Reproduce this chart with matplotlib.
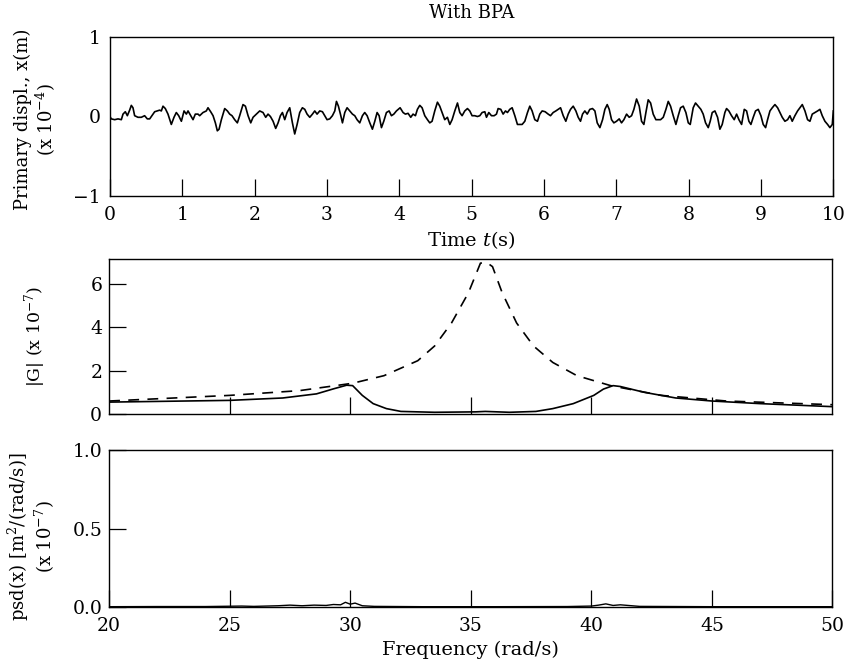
import matplotlib
matplotlib.use("Agg")
import matplotlib.pyplot as plt

# top panel: primary displacement (x 1e-4 m)
time_s = [
    0.0, 0.018, 0.065, 0.111, 0.157, 0.180, 0.212, 0.240, 0.272, 0.295, 0.318, 0.341,
    0.387, 0.433, 0.479, 0.516, 0.549, 0.595, 0.618, 0.655, 0.687, 0.710, 0.733, 0.765,
    0.802, 0.848, 0.885, 0.917, 0.950, 0.987, 1.024, 1.056, 1.079, 1.116, 1.148, 1.180,
    1.217, 1.240, 1.286, 1.332, 1.355, 1.392, 1.425, 1.457, 1.484, 1.508, 1.540, 1.586,
    1.623, 1.655, 1.687, 1.724, 1.761, 1.793, 1.839, 1.872, 1.909, 1.946, 1.978,
    2.024, 2.070, 2.116, 2.153, 2.185, 2.218, 2.255, 2.291, 2.324, 2.356, 2.384, 2.416,
    2.448, 2.485, 2.522, 2.554, 2.587, 2.623, 2.660, 2.693, 2.725, 2.762, 2.799, 2.831,
    2.863, 2.900, 2.937, 2.969, 3.001, 3.038, 3.075, 3.108, 3.131, 3.158, 3.186, 3.214,
    3.246, 3.278, 3.315, 3.352, 3.384, 3.416, 3.453, 3.490, 3.522, 3.555, 3.592, 3.628,
    3.661, 3.693, 3.721, 3.753, 3.785, 3.822, 3.859, 3.891, 3.924, 3.960, 4.011,
    4.052, 4.084, 4.121, 4.158, 4.190, 4.223, 4.250, 4.283, 4.315, 4.352, 4.389,
    4.421, 4.453, 4.490, 4.527, 4.559, 4.592, 4.628, 4.665, 4.698, 4.730, 4.767, 4.804,
    4.836, 4.868, 4.905, 4.942, 4.974, 5.006, 5.043, 5.080, 5.113, 5.145, 5.182, 5.205,
    5.237, 5.274, 5.311, 5.343, 5.366, 5.403, 5.435, 5.468, 5.495, 5.527, 5.560, 5.597,
    5.633, 5.666, 5.698, 5.735, 5.772, 5.804, 5.836, 5.873, 5.910, 5.942, 5.975, 6.016,
    6.058, 6.090, 6.127, 6.164, 6.196, 6.229, 6.266, 6.302, 6.335, 6.367, 6.404,
    6.441, 6.473, 6.505, 6.533, 6.565, 6.598, 6.634, 6.671, 6.704, 6.736, 6.773, 6.810,
    6.842, 6.874, 6.902, 6.934, 6.966, 7.003, 7.040, 7.072, 7.105, 7.142, 7.178, 7.211,
    7.243, 7.280, 7.317, 7.349, 7.381, 7.409, 7.441, 7.474, 7.510, 7.547, 7.580, 7.612,
    7.649, 7.686, 7.718, 7.750, 7.787, 7.824, 7.856, 7.888, 7.925, 7.962, 7.995, 8.022,
    8.063, 8.095, 8.132, 8.169, 8.201, 8.234, 8.271, 8.298, 8.326, 8.363, 8.400,
    8.432, 8.464, 8.501, 8.524, 8.556, 8.593, 8.630, 8.663, 8.695, 8.732, 8.769, 8.801,
    8.833, 8.861, 8.893, 8.925, 8.962, 8.999, 9.031, 9.064, 9.091, 9.124, 9.156, 9.193,
    9.230, 9.262, 9.294, 9.331, 9.368, 9.400, 9.432, 9.469, 9.506, 9.538, 9.571, 9.608,
    9.644, 9.677, 9.709, 9.746, 9.783, 9.815, 9.847, 9.884, 9.921, 9.953, 9.986, 10.0,
]
displ = [
    0.00, -0.03, -0.04, -0.03, -0.04, 0.03, 0.06, 0.01, 0.08, 0.14, 0.11, 0.01,
    -0.01, -0.01, 0.01, -0.03, -0.03, 0.03, 0.06, 0.07, 0.08, 0.07, 0.13, 0.10,
    0.03, -0.10, -0.01, 0.05, 0.01, -0.06, 0.07, 0.03, 0.07, 0.01, -0.04, 0.03,
    0.03, 0.01, 0.05, 0.07, 0.11, 0.06, 0.01, -0.08, -0.18, -0.16, -0.04, 0.10,
    0.07, 0.03, 0.01, -0.04, -0.08, 0.01, 0.15, 0.13, 0.01, -0.08, -0.01,
    0.03, 0.07, 0.05, -0.01, 0.03, 0.00, -0.06, -0.15, -0.08, 0.01, 0.05, -0.04,
    0.05, 0.11, -0.08, -0.22, -0.10, 0.05, 0.11, 0.09, 0.03, -0.01, 0.03, 0.07,
    0.03, 0.07, 0.06, 0.01, -0.04, -0.03, 0.01, 0.07, 0.19, 0.13, 0.03, -0.08,
    0.05, 0.11, 0.07, 0.03, 0.01, -0.04, -0.08, 0.01, 0.05, 0.01, -0.08, -0.16,
    -0.06, 0.05, 0.01, -0.14, -0.06, 0.05, 0.07, 0.01, 0.03, 0.07, 0.11,
    0.05, 0.03, 0.04, -0.01, 0.03, 0.01, 0.09, 0.14, 0.11, 0.01, -0.04,
    -0.08, -0.06, 0.07, 0.18, 0.13, 0.05, -0.04, -0.01, -0.10, -0.04, 0.07, 0.17,
    0.05, 0.01, 0.07, 0.10, 0.07, 0.01, 0.01, 0.00, 0.01, 0.05, 0.06, -0.01,
    0.05, 0.01, 0.01, 0.03, 0.10, 0.09, 0.03, 0.07, 0.05, 0.09, 0.11, 0.01,
    -0.10, -0.10, -0.10, -0.06, 0.05, 0.13, 0.07, -0.04, -0.06, 0.03, 0.07, 0.06,
    0.03, 0.01, 0.05, 0.07, 0.09, 0.11, 0.01, -0.06, 0.03, 0.09, 0.13,
    0.07, -0.01, -0.06, 0.03, 0.07, 0.03, 0.09, 0.10, 0.07, -0.08, -0.14, -0.04,
    0.09, 0.15, 0.09, -0.04, -0.08, -0.06, -0.03, -0.08, -0.04, 0.03, -0.01, 0.01,
    0.09, 0.22, 0.13, -0.06, -0.10, 0.05, 0.21, 0.17, 0.03, -0.04, -0.04, -0.04,
    -0.01, 0.09, 0.19, 0.13, 0.01, -0.10, 0.01, 0.11, 0.13, 0.05, -0.08, -0.10,
    0.11, 0.17, 0.13, 0.09, 0.03, -0.08, -0.14, -0.06, 0.05, 0.07, -0.01,
    -0.16, -0.10, 0.05, 0.10, 0.07, 0.01, -0.04, 0.03, -0.04, -0.10, 0.09, 0.07,
    -0.06, -0.10, -0.01, 0.07, 0.09, 0.01, -0.10, -0.14, -0.04, 0.07, 0.11, 0.15,
    0.11, 0.05, -0.01, -0.06, -0.04, 0.01, -0.06, 0.01, 0.07, 0.11, 0.15, 0.07,
    -0.04, -0.06, 0.03, 0.05, 0.07, 0.09, 0.01, -0.06, -0.10, -0.14, -0.10, 0.07,
]

# middle panel: |G| (x 1e-7)
freq_open = [20, 25, 27.9, 30.1, 31.4, 32.8, 33.5, 34.2, 34.9, 35.4, 35.65, 35.9,
             36.3, 36.9, 37.6, 38.4, 39.4, 40.8, 42.9, 45.6, 50]
g_open = [0.60, 0.86, 1.08, 1.42, 1.77, 2.46, 3.14, 4.20, 5.59, 6.96, 7.0, 6.80,
          5.60, 4.20, 3.14, 2.38, 1.77, 1.31, 0.86, 0.60, 0.43]
freq_bpa = [20, 25, 27.2, 28.6, 29.3, 29.85, 30.1, 30.5, 30.95, 31.5, 32.1, 33.5,
            35.2, 35.6, 36.6, 37.7, 38.4, 39.25, 40.1, 40.5, 40.9, 41.2, 42.2,
            43.5, 45, 47, 50]
g_bpa = [0.55, 0.63, 0.74, 0.93, 1.16, 1.33, 1.31, 0.86, 0.48, 0.25, 0.12, 0.08,
         0.10, 0.12, 0.08, 0.12, 0.25, 0.48, 0.86, 1.15, 1.31, 1.27, 1.00,
         0.74, 0.60, 0.48, 0.34]

# bottom panel: psd(x) (x 1e-7)
freq_psd = [20, 22, 24, 25.5, 26, 27, 27.5, 28, 28.5, 29, 29.3, 29.6, 29.8, 30,
            30.2, 30.5, 31, 33, 36, 39, 40, 40.3, 40.6, 40.9, 41.2, 42, 45, 48, 50]
psd = [0.002, 0.003, 0.003, 0.006, 0.004, 0.008, 0.012, 0.008, 0.012, 0.010,
       0.016, 0.014, 0.030, 0.018, 0.025, 0.008, 0.004, 0.002, 0.002, 0.003,
       0.006, 0.012, 0.020, 0.010, 0.014, 0.004, 0.002, 0.002, 0.002]

plt.rcParams['font.family'] = ['DejaVu Serif']
plt.rcParams['mathtext.fontset'] = 'dejavuserif'
plt.rcParams['font.size'] = 13

fig = plt.figure(figsize=(8.46, 6.68), dpi=100)
ax1 = fig.add_axes([0.130, 0.7066, 0.855, 0.238])
ax2 = fig.add_axes([0.129, 0.3802, 0.855, 0.232])
ax3 = fig.add_axes([0.129, 0.0913, 0.855, 0.235])

for ax in (ax1, ax2, ax3):
    ax.tick_params(direction='in', length=12, width=0.9, labelsize=13.5)
    ax.tick_params(axis='x', pad=7)
    ax.tick_params(axis='y', pad=5)
    for s in ax.spines.values():
        s.set_linewidth(1.0)

ax1.plot(time_s, displ, color='black', lw=1.2)
ax1.set_xlim(0, 10)
ax1.set_ylim(-1, 1)
ax1.set_xticks(range(11))
ax1.set_yticks([-1, 0, 1])
ax1.tick_params(axis='y', length=0, pad=7)
ax1.set_xlabel('Time $t$(s)', fontsize=14, labelpad=4)
ax1.set_ylabel('Primary displ., x(m)\n(x 10$^{-4}$)', fontsize=13, linespacing=1.1)
ax1.yaxis.set_label_coords(-0.072, 0.48)
ax1.set_title('With BPA', fontsize=13, pad=14)

ax2.plot(freq_open, g_open, color='black', lw=1.2, ls=(0, (6.5, 5)))
ax2.plot(freq_bpa, g_bpa, color='black', lw=1.2)
ax2.set_xlim(20, 50)
ax2.set_ylim(0, 7.15)
ax2.set_xticks([25, 30, 35, 40, 45])
ax2.set_xticklabels([])
ax2.set_yticks([0, 2, 4, 6])
ax2.set_ylabel('|G| (x 10$^{-7}$)', fontsize=12.5)
ax2.yaxis.set_label_coords(-0.085, 0.5)

ax3.plot(freq_psd, psd, color='black', lw=1.0)
ax3.set_xlim(20, 50)
ax3.set_ylim(0, 1)
ax3.set_xticks([20, 25, 30, 35, 40, 45, 50])
ax3.set_yticks([0, 0.5, 1.0])
ax3.set_yticklabels(['0.0', '0.5', '1.0'])
ax3.set_xlabel('Frequency (rad/s)', fontsize=14, labelpad=4)
ax3.set_ylabel('psd(x) [m$^2$/(rad/s)]\n(x 10$^{-7}$)', fontsize=13, linespacing=1.1)
ax3.yaxis.set_label_coords(-0.072, 0.45)

fig.savefig('out.png', dpi=100)
